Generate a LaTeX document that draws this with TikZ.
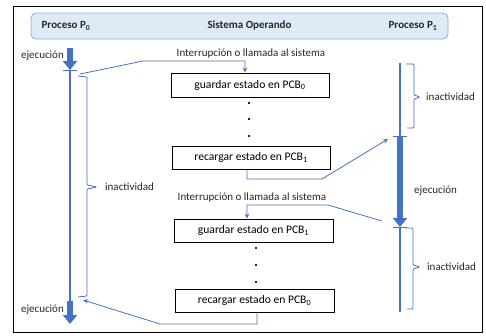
\documentclass[tikz,border=0pt]{standalone}
\usepackage{fontspec}
\setmainfont{Carlito}
\usepackage{xcolor}
\usetikzlibrary{arrows.meta,positioning,calc}
\definecolor{ofblue}{HTML}{4472C4}
\definecolor{hdrfill}{HTML}{DEEBF7}
\definecolor{hdrline}{HTML}{8FAADC}

\begin{document}
\begin{tikzpicture}[x=1pt, y=-1pt,
    font=\fontsize{11}{13}\selectfont,
    hdr/.style={rectangle, draw=hdrline, fill=hdrfill, rounded corners=5pt, minimum width=417pt, minimum height=26pt, line width=0.8pt},
    hlbl/.style={inner sep=0pt, text=black!85, font=\fontsize{11}{13}\selectfont\bfseries},
    box/.style={rectangle, draw, line width=0.9pt, minimum width=#1, minimum height=23pt, inner sep=0pt, font=\fontsize{11.6}{13}\selectfont},
    lbl/.style={inner sep=0pt, text=black!85},
    dot/.style={rectangle, fill=black!85, inner sep=0pt, minimum size=1.8pt},
    conn/.style={->, >={Stealth[length=5pt,width=4.5pt]}, draw=ofblue, line width=0.8pt},
    idle/.style={draw=ofblue, line width=1.8pt},
    run/.style={draw=ofblue, line width=6pt, -{Triangle[length=9pt,width=14pt]}},
    brk/.style={draw=ofblue, line width=0.8pt, rounded corners=1pt}
]
    \useasboundingbox (0,0) rectangle (486,335);
    \draw[line width=0.8pt] (13,6) rectangle (482,332);

    % Header
    \node[hdr] (head) at (239.5,26) {};
    \node[hlbl] (hp0) at (66,26) {Proceso P\textsubscript{0}};
    \node[hlbl] (hso) at (249.5,26) {Sistema Operando};
    \node[hlbl] (hp1) at (413,26) {Proceso P\textsubscript{1}};

    % Process P0
    \coordinate (p0a) at (70,48);
    \coordinate (p0b) at (70,70);
    \coordinate (p0c) at (70,301);
    \coordinate (p0d) at (70,324);
    \draw[run] (p0a) -- (p0b);
    \draw[idle] (p0b) -- (p0c);
    \draw[run] (p0c) -- (p0d);
    \draw[brk] (63,70) -- (77,70);
    \draw[brk] (78,76) -- (87,77) -- (87,185) -- (97,187) -- (87,189) -- (87,296) -- (78,297);
    \node[lbl, anchor=east] (ej0) at (64,56) {ejecución};
    \node[lbl, anchor=west] (in0) at (105,187) {inactividad};
    \node[lbl, anchor=east] (ej1) at (64,310) {ejecución};

    % Process P1
    \coordinate (p1a) at (400,63);
    \coordinate (p1b) at (400,136);
    \coordinate (p1c) at (400,227);
    \coordinate (p1d) at (400,312);
    \draw[idle] (p1a) -- (p1b);
    \draw[run] (p1b) -- (p1c);
    \draw[idle] (p1c) -- (p1d);
    \draw[brk] (393,136) -- (407,136);
    \draw[brk] (393,227) -- (407,227);
    \draw[brk] (406,64) -- (414,64) -- (414,95) -- (420,97) -- (414,99) -- (414,128) -- (407,128);
    \draw[brk] (405,228) -- (413,228) -- (413,265) -- (420,267) -- (413,269) -- (413,309) -- (407,309);
    \node[lbl, anchor=west] (in1) at (426,97) {inactividad};
    \node[lbl, anchor=west] (ej2) at (414,191) {ejecución};
    \node[lbl, anchor=west] (in2) at (427,267) {inactividad};

    % Operating system
    \node[lbl] (int0) at (251,54) {Interrupción o llamada al sistema};
    \node[box=158pt, minimum height=24pt] (g0) at (250,85) {guardar estado en PCB\textsubscript{0}};
    \foreach \y in {103,119,136} \node[dot] (d0\y) at (249,\y) {};
    \node[box=158pt] (r1) at (251,157.5) {recargar estado en PCB\textsubscript{1}};
    \node[lbl] (int1) at (252,198) {Interrupción o llamada al sistema};
    \node[box=159pt] (g1) at (253.5,230.5) {guardar estado en PCB\textsubscript{1}};
    \foreach \y in {248,265,282} \node[dot] (d1\y) at (256,\y) {};
    \node[box=159pt] (r0) at (254.5,300.5) {recargar estado en PCB\textsubscript{0}};

    % Connections
    \coordinate (a0) at (80,74);
    \coordinate (b1) at (388,139);
    \coordinate (a1) at (382,221);
    \coordinate (b0) at (83,300);
    \draw[conn] (a0) -- (143,61) -| ([xshift=-5pt]g0.north);
    \draw[conn] ([xshift=-4pt]r1.south) |- (322,179) -- (b1);
    \draw[conn] (a1) -- (328,205) -| ([xshift=-6.5pt]g1.north);
    \draw[conn] ([xshift=2.5pt]r0.south) |- (160,324) -- (b0);
\end{tikzpicture}
\end{document}
